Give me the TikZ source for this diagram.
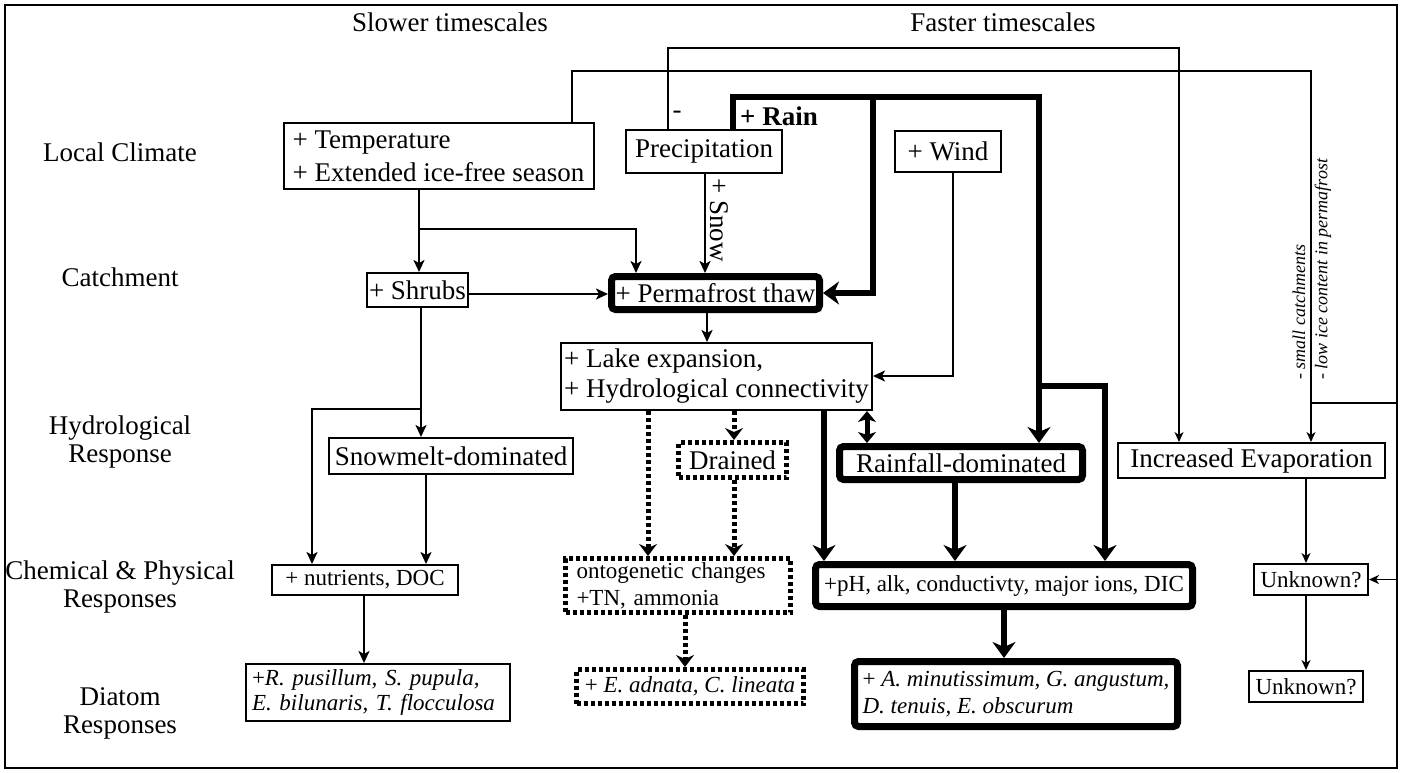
\documentclass[tikz,border=0pt]{standalone}
\usepackage{fontspec}
\setmainfont{Liberation Serif}
\usetikzlibrary{arrows.meta}
\newcommand{\FBig}{\fontsize{27}{31}\selectfont}
\newcommand{\FSm}{\fontsize{23}{27}\selectfont}
\newcommand{\FLab}{\fontsize{27}{28}\selectfont}
\newcommand{\FNote}{\fontsize{18}{20}\selectfont}
\begin{document}
\begin{tikzpicture}[x=1pt,y=-1pt,
  box/.style={draw, line width=2pt, inner sep=0pt, font=\FBig, align=center},
  thickbox/.style={box, line width=7pt, rounded corners=4pt},
  dotbox/.style={box, line width=5pt, dash pattern=on 4pt off 3pt},
  lab/.style={font=\FLab, align=center},
  arr/.style={line width=2.8pt, -{Stealth[length=12pt,width=11pt,inset=3pt]}},
  tarr/.style={line width=1.6pt, -{Stealth[length=10pt,width=9pt,inset=3pt]}},
  bigarr/.style={line width=6.5pt, -{Stealth[length=16pt,width=23pt,inset=5pt]}},
  dblarr/.style={line width=5pt, {Stealth[length=11pt,width=18pt,inset=3pt]}-{Stealth[length=11pt,width=18pt,inset=3pt]}},
  dotarr/.style={line width=5pt, dash pattern=on 4pt off 3pt, -{Stealth[length=12pt,width=18pt,inset=4pt]}},
  note/.style={font=\itshape\FNote, rotate=90, anchor=west, inner sep=0pt}
]
\useasboundingbox (0,0) rectangle (1403,772);
\fill[white] (0,0) rectangle (1403,772);
\draw[line width=2pt] (5,5) rectangle (1397,768);

% headings and row labels
\node[lab] (slow) at (450,22) {Slower timescales};
\node[lab] (fast) at (1003,22) {Faster timescales};
\node[lab] (rowA) at (120,152) {Local Climate};
\node[lab] (rowB) at (120,277) {Catchment};
\node[lab] (rowC) at (120,442) {Hydrological\\Response};
\node[lab] (rowD) at (120,587) {Chemical \& Physical\\Responses};
\node[lab] (rowE) at (120,713) {Diatom\\Responses};

% boxes
\node[box, align=left, minimum width=310pt, minimum height=66pt, font=\fontsize{27}{33}\selectfont] (temp) at (438.5,156) {+ Temperature\\+ Extended ice-free season};
\node[box, minimum width=156pt, minimum height=43pt] (precip) at (704,151.5) {Precipitation};
\node[box, minimum width=106pt, minimum height=41pt] (wind) at (948,151.5) {+ Wind};
\node[box, minimum width=101pt, minimum height=34pt] (shrubs) at (417.5,290) {+ Shrubs};
\node[thickbox, minimum width=208pt, minimum height=33pt] (perm) at (715.5,293) {+ Permafrost thaw};
\node[box, align=left, minimum width=311pt, minimum height=67pt, font=\fontsize{27}{30}\selectfont] (lake) at (716.5,376.5) {+ Lake expansion,\\+ Hydrological connectivity};
\node[box, minimum width=244pt, minimum height=36pt] (snowm) at (451,456) {Snowmelt-dominated};
\node[dotbox, minimum width=108pt, minimum height=35pt] (drain) at (732.5,460) {Drained};
\node[thickbox, minimum width=243pt, minimum height=33pt] (rain) at (961,463) {Rainfall-dominated};
\node[box, minimum width=267pt, minimum height=35pt] (evap) at (1251.5,460.5) {Increased Evaporation};
\node[box, minimum width=186pt, minimum height=30pt, font=\FSm] (nutr) at (365,580) {+ nutrients, DOC};
\node[dotbox, align=left, text width=203pt, minimum width=225pt, minimum height=54pt, font=\FSm] (onto) at (678,585.5) {ontogenetic changes\\+TN, ammonia};
\node[thickbox, minimum width=377pt, minimum height=42pt, font=\FSm] (ph) at (1004,585.5) {+pH, alk, conductivty, major ions, DIC};
\node[box, minimum width=114pt, minimum height=31pt, font=\FSm] (unk1) at (1311,579.5) {Unknown?};
\node[box, align=left, text width=252pt, minimum width=264pt, minimum height=57pt, font=\fontsize{23}{25}\selectfont] (diat1) at (378,692.5) {+\textit{R. pusillum, S. pupula,}\\\textit{E. bilunaris, T. flocculosa}};
\node[dotbox, minimum width=227pt, minimum height=34pt, font=\FSm] (adn) at (690,686.5) {+ \textit{E. adnata, C. lineata}};
\node[thickbox, align=left, minimum width=323pt, minimum height=65pt, font=\fontsize{23}{27}\selectfont] (amin) at (1016,694) {+ \textit{A. minutissimum, G. angustum,}\\\textit{D. tenuis, E. obscurum}};
\node[box, minimum width=114pt, minimum height=31pt, font=\FSm] (unk2) at (1306,686.5) {Unknown?};

% labels on connectors
\node[font=\bfseries\FBig, anchor=west, inner sep=0pt] (rainlbl) at (740,116) {+ Rain};
\node[font=\FBig, inner sep=0pt] (minus) at (677,115) {-};
\node[font=\FBig, rotate=-90, inner sep=0pt] (snowlbl) at (719,220) {+ Snow};
\node[note] (n1) at (1299,380) {- small catchments};
\node[note] (n2) at (1323,380) {- low ice content in permafrost};

% helper coordinates
\coordinate (c1) at (572,71);
\coordinate (c2) at (1311,71);
\coordinate (c3) at (1311,403);
\coordinate (c4) at (1397,403);
\coordinate (p1) at (668,48);
\coordinate (p2) at (1179,48);
\coordinate (r1) at (733,97);
\coordinate (r2) at (1039,97);
\coordinate (r3) at (873,97);
\coordinate (r4) at (1039,386);
\coordinate (r5) at (1105,386);
\coordinate (sn) at (705,0);
\coordinate (t1) at (419,229);
\coordinate (t2) at (636,229);
\coordinate (s1) at (0,294);
\coordinate (s2) at (421,409);
\coordinate (s3) at (312,409);
\coordinate (s4) at (426,0);
\coordinate (s5) at (364,0);
\coordinate (pl) at (707,0);
\coordinate (w1) at (953,376);
\coordinate (d1) at (648,0);
\coordinate (d2) at (734,0);
\coordinate (d3) at (685,0);
\coordinate (k1) at (824,0);
\coordinate (k2) at (867,0);
\coordinate (k3) at (955,0);
\coordinate (k4) at (1004,0);
\coordinate (e1) at (1306,0);

% thin long connectors
\draw[tarr] (temp.north -| c1) |- (c2) -- (evap.north -| c2);
\draw[tarr] (c3) -- (c4) |- (unk1.east);
\draw[tarr] (precip.north -| p1) |- (p2) -- (evap.north -| p2);
\draw[tarr] (evap.south -| e1) -- (unk1.north -| e1);
\draw[tarr] (unk1.south -| e1) -- (unk2.north -| e1);

% thick rain connectors
\draw[bigarr] (precip.north -| r1) |- (r2) -- (rain.north -| r2);
\draw[bigarr] (r3) |- (perm.east);
\draw[bigarr] (r4) -| (ph.north -| r5);

% regular connectors
\draw[arr] (precip.south -| sn) -- (perm.north -| sn);
\draw[arr] (temp.south -| t1) -- (shrubs.north -| t1);
\draw[arr] (t1) -| (perm.north -| t2);
\draw[arr] (shrubs.east |- s1) -- (perm.west |- s1);
\draw[arr] (shrubs.south -| s2) -- (snowm.north -| s2);
\draw[arr] (s2) -| (nutr.north -| s3);
\draw[arr] (snowm.south -| s4) -- (nutr.north -| s4);
\draw[arr] (nutr.south -| s5) -- (diat1.north -| s5);
\draw[arr] (perm.south -| pl) -- (lake.north -| pl);
\draw[arr] (wind.south -| w1) |- (lake.east |- w1);

% dotted connectors
\draw[dotarr] (lake.south -| d1) -- (onto.north -| d1);
\draw[dotarr] (lake.south -| d2) -- (drain.north -| d2);
\draw[dotarr] (drain.south -| d2) -- (onto.north -| d2);
\draw[dotarr] (onto.south -| d3) -- (adn.north -| d3);

% thick connectors
\draw[bigarr] (lake.south -| k1) -- (ph.north -| k1);
\draw[dblarr] (lake.south -| k2) -- (rain.north -| k2);
\draw[bigarr] (rain.south -| k3) -- (ph.north -| k3);
\draw[bigarr] (ph.south -| k4) -- (amin.north -| k4);
\end{tikzpicture}
\end{document}
